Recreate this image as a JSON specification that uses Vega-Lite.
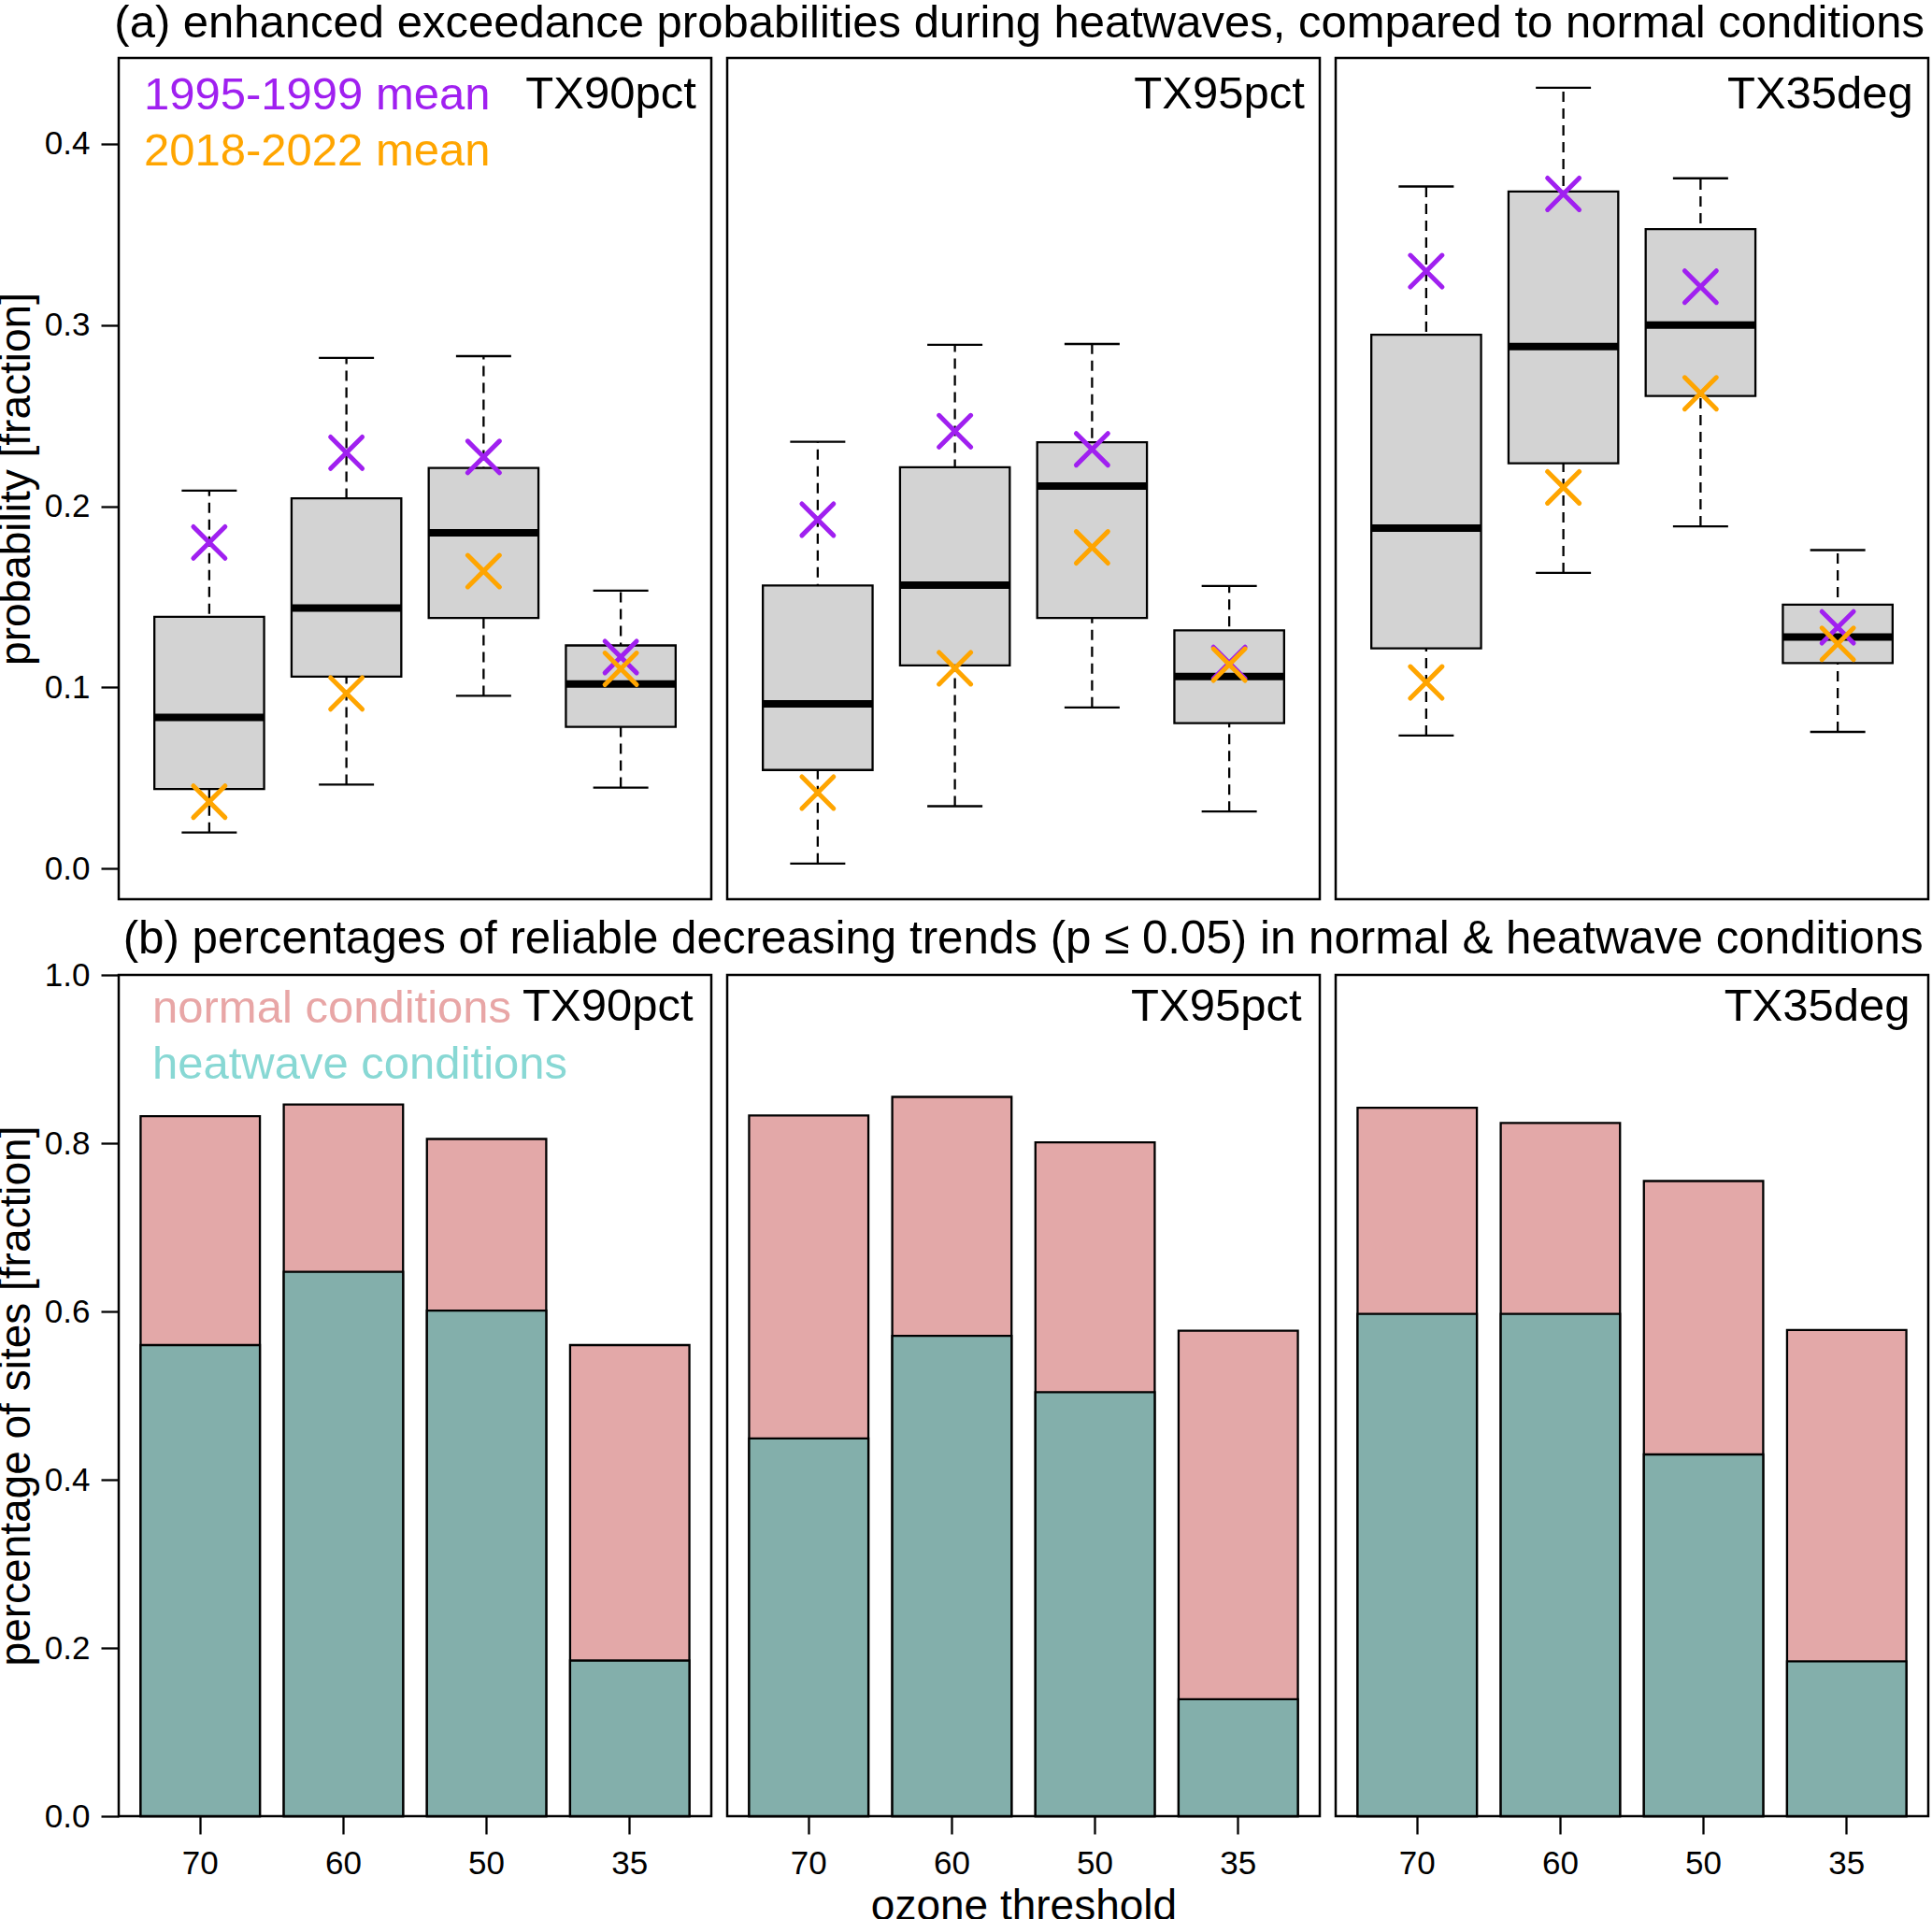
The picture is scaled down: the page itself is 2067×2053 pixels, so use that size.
{
  "$schema": "https://vega.github.io/schema/vega-lite/v6.json",
  "padding": {"left": -7, "top": 0, "right": 0, "bottom": 0},
  "background": "white",
  "datasets": {
    "box": [
      {"panel": "TX90pct", "thr": "70", "lo": 0.020, "q1": 0.044, "med": 0.0835, "q3": 0.139, "hi": 0.2086, "p1995": 0.180, "p2018": 0.037},
      {"panel": "TX90pct", "thr": "60", "lo": 0.0464, "q1": 0.106, "med": 0.1438, "q3": 0.2044, "hi": 0.2818, "p1995": 0.2295, "p2018": 0.0967},
      {"panel": "TX90pct", "thr": "50", "lo": 0.0954, "q1": 0.1384, "med": 0.1854, "q3": 0.2211, "hi": 0.2828, "p1995": 0.2272, "p2018": 0.1642},
      {"panel": "TX90pct", "thr": "35", "lo": 0.0448, "q1": 0.0783, "med": 0.1019, "q3": 0.1232, "hi": 0.1534, "p1995": 0.1168, "p2018": 0.1103},
      {"panel": "TX95pct", "thr": "70", "lo": 0.0029, "q1": 0.0545, "med": 0.0910, "q3": 0.1563, "hi": 0.2356, "p1995": 0.1926, "p2018": 0.0420},
      {"panel": "TX95pct", "thr": "60", "lo": 0.0345, "q1": 0.1122, "med": 0.1564, "q3": 0.2215, "hi": 0.2891, "p1995": 0.2414, "p2018": 0.1106},
      {"panel": "TX95pct", "thr": "50", "lo": 0.0890, "q1": 0.1384, "med": 0.2111, "q3": 0.2353, "hi": 0.2895, "p1995": 0.2314, "p2018": 0.1773},
      {"panel": "TX95pct", "thr": "35", "lo": 0.0316, "q1": 0.0803, "med": 0.1061, "q3": 0.1315, "hi": 0.1560, "p1995": 0.1136, "p2018": 0.1126},
      {"panel": "TX35deg", "thr": "70", "lo": 0.0735, "q1": 0.1216, "med": 0.1879, "q3": 0.2946, "hi": 0.3764, "p1995": 0.3297, "p2018": 0.1028},
      {"panel": "TX35deg", "thr": "60", "lo": 0.1632, "q1": 0.2237, "med": 0.2881, "q3": 0.3736, "hi": 0.4309, "p1995": 0.3723, "p2018": 0.2104},
      {"panel": "TX35deg", "thr": "50", "lo": 0.1889, "q1": 0.2608, "med": 0.2999, "q3": 0.3529, "hi": 0.3809, "p1995": 0.3211, "p2018": 0.2623},
      {"panel": "TX35deg", "thr": "35", "lo": 0.0755, "q1": 0.1135, "med": 0.1278, "q3": 0.1457, "hi": 0.1758, "p1995": 0.1332, "p2018": 0.1241}
    ],
    "bars": [
      {"panel": "TX90pct", "thr": "70", "normal": 0.832, "heatwave": 0.560},
      {"panel": "TX90pct", "thr": "60", "normal": 0.846, "heatwave": 0.647},
      {"panel": "TX90pct", "thr": "50", "normal": 0.805, "heatwave": 0.601},
      {"panel": "TX90pct", "thr": "35", "normal": 0.560, "heatwave": 0.185},
      {"panel": "TX95pct", "thr": "70", "normal": 0.833, "heatwave": 0.449},
      {"panel": "TX95pct", "thr": "60", "normal": 0.855, "heatwave": 0.571},
      {"panel": "TX95pct", "thr": "50", "normal": 0.801, "heatwave": 0.504},
      {"panel": "TX95pct", "thr": "35", "normal": 0.577, "heatwave": 0.139},
      {"panel": "TX35deg", "thr": "70", "normal": 0.842, "heatwave": 0.597},
      {"panel": "TX35deg", "thr": "60", "normal": 0.824, "heatwave": 0.597},
      {"panel": "TX35deg", "thr": "50", "normal": 0.755, "heatwave": 0.430},
      {"panel": "TX35deg", "thr": "35", "normal": 0.578, "heatwave": 0.184}
    ]
  },
  "config": {
    "font": "Liberation Sans",
    "view": {"stroke": "black", "strokeWidth": 2.5},
    "axis": {"domain": false, "grid": false, "tickColor": "black", "tickWidth": 2.3, "tickSize": 19, "labelColor": "black", "labelFontSize": 35, "labelPadding": 12, "titleColor": "black", "titleFontSize": 46, "titleFontWeight": "normal"},
    "title": {"fontWeight": "normal", "color": "black", "fontSize": 49},
    "legend": {"title": null, "padding": 0, "labelFontSize": 49, "labelLimit": 0, "symbolSize": 0, "symbolOpacity": 0, "symbolStrokeWidth": 0, "rowPadding": 10},
    "text": {"font": "Liberation Sans", "fontSize": 49, "color": "black"}
  },
  "resolve": {"scale": {"color": "independent"}},
  "spacing": 17,
  "vconcat": [
    {
      "title": {"text": "(a) enhanced exceedance probabilities during heatwaves, compared to normal conditions", "anchor": "middle", "offset": -28, "baseline": "alphabetic", "dx": 62},
      "spacing": 13,
      "resolve": {"scale": {"color": "independent"}},
      "hconcat": [
        {
          "width": 634, "height": 900,
          "data": {"name": "box"},
          "transform": [{"filter": {"field": "panel", "equal": "TX90pct"}}],
          "encoding": {"x": {"field": "thr", "type": "ordinal", "sort": ["70", "60", "50", "35"], "scale": {"paddingInner": 0.2, "paddingOuter": 0.26}, "axis": null}},
          "layer": [
            {"mark": {"type": "rule", "color": "black", "strokeWidth": 2.3, "strokeDash": [11, 7]},
             "encoding": {"y": {"field": "lo", "type": "quantitative", "scale": {"domain": [-0.0168, 0.4473], "nice": false, "zero": false}, "title": "probability [fraction]", "axis": {"values": [0, 0.1, 0.2, 0.3, 0.4], "format": ".1f", "titlePadding": 6}}, "y2": {"field": "hi"}}},
            {"mark": {"type": "tick", "color": "black", "thickness": 2.3, "size": 59, "opacity": 1},
             "encoding": {"y": {"field": "lo", "type": "quantitative", "title": "probability [fraction]"}}},
            {"mark": {"type": "tick", "color": "black", "thickness": 2.3, "size": 59, "opacity": 1},
             "encoding": {"y": {"field": "hi", "type": "quantitative", "title": "probability [fraction]"}}},
            {"mark": {"type": "bar", "fill": "#d3d3d3", "stroke": "black", "strokeWidth": 2.3},
             "encoding": {"y": {"field": "q3", "type": "quantitative", "title": "probability [fraction]"}, "y2": {"field": "q1"}}},
            {"mark": {"type": "tick", "color": "black", "thickness": 8, "size": 117, "opacity": 1},
             "encoding": {"y": {"field": "med", "type": "quantitative", "title": "probability [fraction]"}}},
            {"transform": [{"fold": ["p1995", "p2018"], "as": ["period", "mean"]}],
             "mark": {"type": "point", "shape": "M-1,-1L1,1M-1,1L1,-1", "filled": false, "strokeWidth": 5, "size": 1150, "strokeCap": "round", "opacity": 1},
             "encoding": {"y": {"field": "mean", "type": "quantitative", "title": "probability [fraction]"},
                          "color": {"field": "period", "type": "nominal", "scale": {"domain": ["p1995", "p2018"], "range": ["#a020f0", "#ffa500"]},
                                    "legend": {"orient": "top-left", "offset": 15, "labelOffset": -37, "labelExpr": "datum.value === 'p1995' ? '1995-1999 mean' : '2018-2022 mean'", "labelColor": {"expr": "datum.value === 'p1995' ? '#a020f0' : '#ffa500'"}}}}},
            {"data": {"values": [{"panel": "TX90pct", "label": "TX90pct"}]},
             "mark": {"type": "text", "align": "right", "baseline": "alphabetic", "dx": 22},
             "encoding": {"x": {"datum": "35", "type": "ordinal", "bandPosition": 1}, "y": {"datum": 0.4195, "type": "quantitative", "title": "probability [fraction]"}, "text": {"field": "label"}}}
          ]
        },
        {
          "width": 634, "height": 900,
          "data": {"name": "box"},
          "transform": [{"filter": {"field": "panel", "equal": "TX95pct"}}],
          "encoding": {"x": {"field": "thr", "type": "ordinal", "sort": ["70", "60", "50", "35"], "scale": {"paddingInner": 0.2, "paddingOuter": 0.26}, "axis": null}},
          "layer": [
            {"mark": {"type": "rule", "color": "black", "strokeWidth": 2.3, "strokeDash": [11, 7]},
             "encoding": {"y": {"field": "lo", "type": "quantitative", "scale": {"domain": [-0.0168, 0.4473], "nice": false, "zero": false}, "axis": null}, "y2": {"field": "hi"}}},
            {"mark": {"type": "tick", "color": "black", "thickness": 2.3, "size": 59, "opacity": 1},
             "encoding": {"y": {"field": "lo", "type": "quantitative", "axis": null}}},
            {"mark": {"type": "tick", "color": "black", "thickness": 2.3, "size": 59, "opacity": 1},
             "encoding": {"y": {"field": "hi", "type": "quantitative", "axis": null}}},
            {"mark": {"type": "bar", "fill": "#d3d3d3", "stroke": "black", "strokeWidth": 2.3},
             "encoding": {"y": {"field": "q3", "type": "quantitative", "axis": null}, "y2": {"field": "q1"}}},
            {"mark": {"type": "tick", "color": "black", "thickness": 8, "size": 117, "opacity": 1},
             "encoding": {"y": {"field": "med", "type": "quantitative", "axis": null}}},
            {"transform": [{"fold": ["p1995", "p2018"], "as": ["period", "mean"]}],
             "mark": {"type": "point", "shape": "M-1,-1L1,1M-1,1L1,-1", "filled": false, "strokeWidth": 5, "size": 1150, "strokeCap": "round", "opacity": 1},
             "encoding": {"y": {"field": "mean", "type": "quantitative", "axis": null},
                          "color": {"field": "period", "type": "nominal", "scale": {"domain": ["p1995", "p2018"], "range": ["#a020f0", "#ffa500"]}, "legend": null}}},
            {"data": {"values": [{"panel": "TX95pct", "label": "TX95pct"}]},
             "mark": {"type": "text", "align": "right", "baseline": "alphabetic", "dx": 22},
             "encoding": {"x": {"datum": "35", "type": "ordinal", "bandPosition": 1}, "y": {"datum": 0.4195, "type": "quantitative", "axis": null}, "text": {"field": "label"}}}
          ]
        },
        {
          "width": 634, "height": 900,
          "data": {"name": "box"},
          "transform": [{"filter": {"field": "panel", "equal": "TX35deg"}}],
          "encoding": {"x": {"field": "thr", "type": "ordinal", "sort": ["70", "60", "50", "35"], "scale": {"paddingInner": 0.2, "paddingOuter": 0.26}, "axis": null}},
          "layer": [
            {"mark": {"type": "rule", "color": "black", "strokeWidth": 2.3, "strokeDash": [11, 7]},
             "encoding": {"y": {"field": "lo", "type": "quantitative", "scale": {"domain": [-0.0168, 0.4473], "nice": false, "zero": false}, "axis": null}, "y2": {"field": "hi"}}},
            {"mark": {"type": "tick", "color": "black", "thickness": 2.3, "size": 59, "opacity": 1},
             "encoding": {"y": {"field": "lo", "type": "quantitative", "axis": null}}},
            {"mark": {"type": "tick", "color": "black", "thickness": 2.3, "size": 59, "opacity": 1},
             "encoding": {"y": {"field": "hi", "type": "quantitative", "axis": null}}},
            {"mark": {"type": "bar", "fill": "#d3d3d3", "stroke": "black", "strokeWidth": 2.3},
             "encoding": {"y": {"field": "q3", "type": "quantitative", "axis": null}, "y2": {"field": "q1"}}},
            {"mark": {"type": "tick", "color": "black", "thickness": 8, "size": 117, "opacity": 1},
             "encoding": {"y": {"field": "med", "type": "quantitative", "axis": null}}},
            {"transform": [{"fold": ["p1995", "p2018"], "as": ["period", "mean"]}],
             "mark": {"type": "point", "shape": "M-1,-1L1,1M-1,1L1,-1", "filled": false, "strokeWidth": 5, "size": 1150, "strokeCap": "round", "opacity": 1},
             "encoding": {"y": {"field": "mean", "type": "quantitative", "axis": null},
                          "color": {"field": "period", "type": "nominal", "scale": {"domain": ["p1995", "p2018"], "range": ["#a020f0", "#ffa500"]}, "legend": null}}},
            {"data": {"values": [{"panel": "TX35deg", "label": "TX35deg"}]},
             "mark": {"type": "text", "align": "right", "baseline": "alphabetic", "dx": 22},
             "encoding": {"x": {"datum": "35", "type": "ordinal", "bandPosition": 1}, "y": {"datum": 0.4195, "type": "quantitative", "axis": null}, "text": {"field": "label"}}}
          ]
        }
      ]
    },
    {
      "title": {"text": "(b) percentages of reliable decreasing trends (p ≤ 0.05) in normal & heatwave conditions", "anchor": "middle", "offset": -45, "baseline": "alphabetic", "dx": 66, "fontSize": 49.3},
      "spacing": 13,
      "resolve": {"scale": {"color": "independent"}},
      "hconcat": [
        {
          "width": 634, "height": 900,
          "data": {"name": "bars"},
          "transform": [{"filter": {"field": "panel", "equal": "TX90pct"}}],
          "encoding": {"x": {"field": "thr", "type": "ordinal", "sort": ["70", "60", "50", "35"], "scale": {"paddingInner": 0.1667, "paddingOuter": 0.153}, "title": null, "axis": {"labelAngle": 0, "labelPadding": 14}}},
          "layer": [
            {"transform": [{"fold": ["normal", "heatwave"], "as": ["cond", "frac"]}],
             "mark": {"type": "bar", "stroke": "black", "strokeWidth": 2.3},
             "encoding": {
               "y": {"field": "frac", "type": "quantitative", "stack": null, "scale": {"domain": [0, 1], "nice": false}, "title": "percentage of sites [fraction]", "axis": {"values": [0, 0.2, 0.4, 0.6, 0.8, 1.0], "format": ".1f", "titlePadding": 6}},
               "color": {"field": "cond", "type": "nominal", "scale": {"domain": ["normal", "heatwave"], "range": ["#e3a8a8", "#83afab"]},
                         "legend": {"orient": "top-left", "offset": 11, "labelOffset": -24, "labelExpr": "datum.value === 'normal' ? 'normal conditions' : 'heatwave conditions'", "labelColor": {"expr": "datum.value === 'normal' ? '#e8a6a6' : '#88d8d4'"}}}}},
            {"data": {"values": [{"panel": "TX90pct", "label": "TX90pct"}]},
             "mark": {"type": "text", "align": "right", "baseline": "alphabetic", "dx": 4},
             "encoding": {"x": {"datum": "35", "type": "ordinal", "bandPosition": 1}, "y": {"datum": 0.9456, "type": "quantitative", "title": "percentage of sites [fraction]"}, "text": {"field": "label"}}}
          ]
        },
        {
          "width": 634, "height": 900,
          "data": {"name": "bars"},
          "transform": [{"filter": {"field": "panel", "equal": "TX95pct"}}],
          "encoding": {"x": {"field": "thr", "type": "ordinal", "sort": ["70", "60", "50", "35"], "scale": {"paddingInner": 0.1667, "paddingOuter": 0.153}, "title": "ozone threshold", "axis": {"labelAngle": 0, "labelPadding": 14, "titlePadding": 6}}},
          "layer": [
            {"transform": [{"fold": ["normal", "heatwave"], "as": ["cond", "frac"]}],
             "mark": {"type": "bar", "stroke": "black", "strokeWidth": 2.3},
             "encoding": {
               "y": {"field": "frac", "type": "quantitative", "stack": null, "scale": {"domain": [0, 1], "nice": false}, "axis": null},
               "color": {"field": "cond", "type": "nominal", "scale": {"domain": ["normal", "heatwave"], "range": ["#e3a8a8", "#83afab"]}, "legend": null}}},
            {"data": {"values": [{"panel": "TX95pct", "label": "TX95pct"}]},
             "mark": {"type": "text", "align": "right", "baseline": "alphabetic", "dx": 4},
             "encoding": {"x": {"datum": "35", "type": "ordinal", "bandPosition": 1}, "y": {"datum": 0.9456, "type": "quantitative", "axis": null}, "text": {"field": "label"}}}
          ]
        },
        {
          "width": 634, "height": 900,
          "data": {"name": "bars"},
          "transform": [{"filter": {"field": "panel", "equal": "TX35deg"}}],
          "encoding": {"x": {"field": "thr", "type": "ordinal", "sort": ["70", "60", "50", "35"], "scale": {"paddingInner": 0.1667, "paddingOuter": 0.153}, "title": null, "axis": {"labelAngle": 0, "labelPadding": 14}}},
          "layer": [
            {"transform": [{"fold": ["normal", "heatwave"], "as": ["cond", "frac"]}],
             "mark": {"type": "bar", "stroke": "black", "strokeWidth": 2.3},
             "encoding": {
               "y": {"field": "frac", "type": "quantitative", "stack": null, "scale": {"domain": [0, 1], "nice": false}, "axis": null},
               "color": {"field": "cond", "type": "nominal", "scale": {"domain": ["normal", "heatwave"], "range": ["#e3a8a8", "#83afab"]}, "legend": null}}},
            {"data": {"values": [{"panel": "TX35deg", "label": "TX35deg"}]},
             "mark": {"type": "text", "align": "right", "baseline": "alphabetic", "dx": 4},
             "encoding": {"x": {"datum": "35", "type": "ordinal", "bandPosition": 1}, "y": {"datum": 0.9456, "type": "quantitative", "axis": null}, "text": {"field": "label"}}}
          ]
        }
      ]
    }
  ]
}
